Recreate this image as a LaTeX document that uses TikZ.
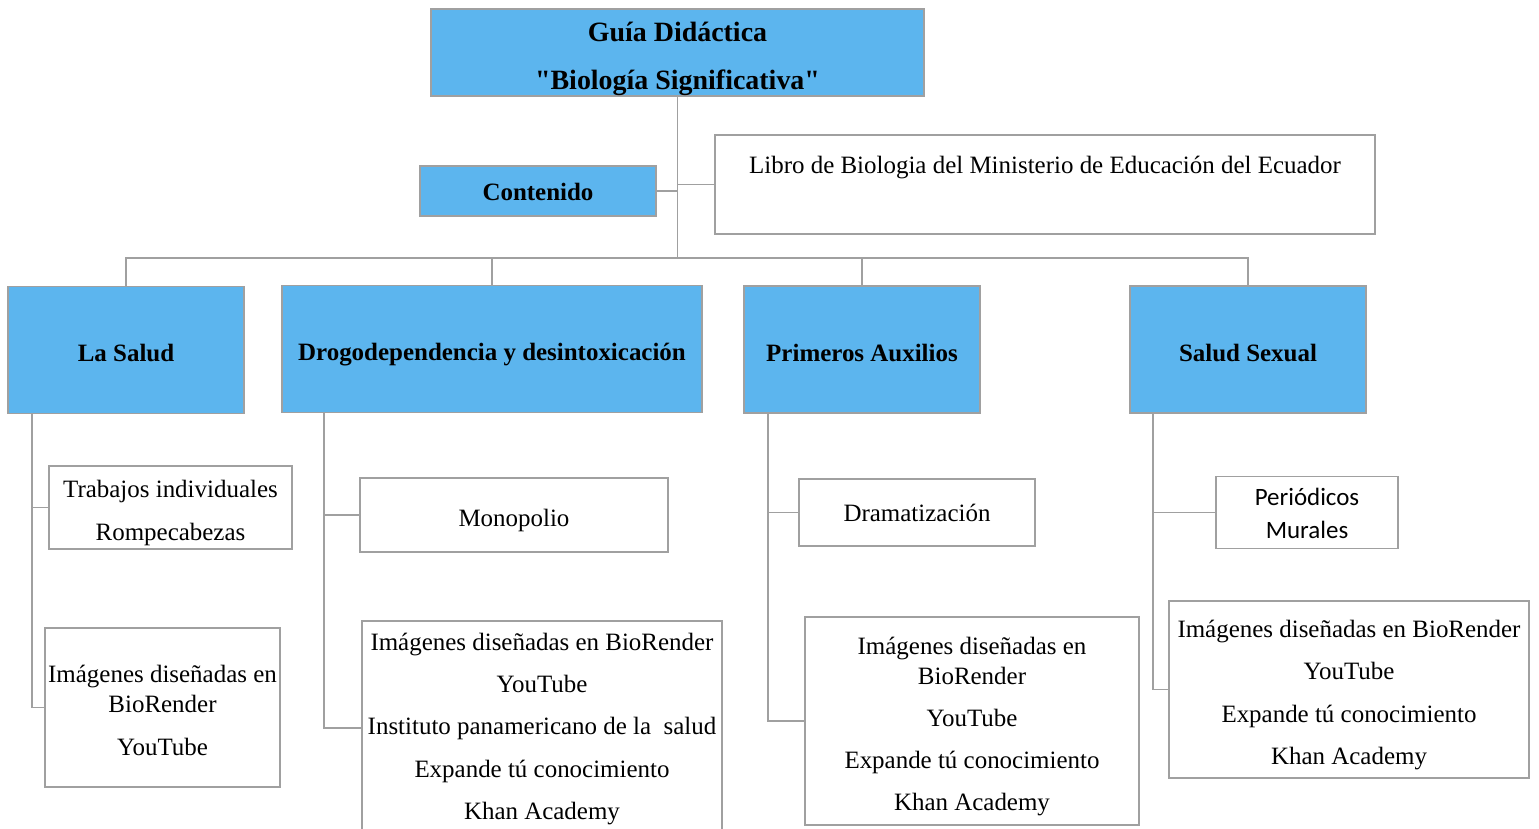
\documentclass[tikz,border=0pt]{standalone}
\usepackage{fontspec}
\setmainfont{Liberation Serif}
\newfontfamily\calibrifont{Carlito}
\definecolor{boxblue}{RGB}{92,181,238}
\definecolor{linegray}{RGB}{160,160,160}
% strut for the first line of a box
\newcommand\up[1][16.7pt]{\rule{0pt}{#1}}
\tikzset{
  hdr/.style={draw=linegray, fill=boxblue, line width=0.9pt, inner sep=0pt,
    align=center, minimum height=2.54cm, text depth=3.5pt,
    font=\fontsize{14.2}{24.05}\selectfont\bfseries},
  leaf/.style={draw=linegray, fill=white, line width=0.9pt, inner sep=0pt,
    align=center, text depth=3.5pt, font=\fontsize{14.2}{24.05}\selectfont},
  conn/.style={draw=linegray, line width=1.1pt},
}
\begin{document}
\begin{tikzpicture}
    \useasboundingbox (0,0) rectangle (30.78,-16.58);
    \clip (0,0) rectangle (30.78,-16.58);

    % top
    \node[hdr, minimum width=9.86cm, minimum height=1.74cm,
      font=\fontsize{15.9}{27.3}\selectfont\bfseries] (guia) at (13.55,-1.05)
      {\up[18.5pt]Guía Didáctica\\\textquotedbl Biología Significativa\textquotedbl};
    \node[hdr, minimum width=4.72cm, minimum height=1cm, text depth=5.5pt] (cont) at (10.76,-3.82) {\up Contenido};
    \node[leaf, minimum width=13.2cm, minimum height=1.98cm] (libro) at (20.9,-3.69) {};
    \node[font=\fontsize{14.2}{24.05}\selectfont] (librotxt) at (20.9,-3.36)
      {Libro de Biologia del Ministerio de Educación del Ecuador};
    \coordinate (bus) at (13.54,-5.16);

    % headers
    \node[hdr, minimum width=4.72cm] (salud) at (2.52,-7.0) {\up La Salud};
    \node[hdr, minimum width=8.4cm] (drogo) at (9.84,-6.98) {\up Drogodependencia y desintoxicación};
    \node[hdr, minimum width=4.72cm] (auxil) at (17.24,-6.99) {\up Primeros Auxilios};
    \node[hdr, minimum width=4.72cm] (sexual) at (24.96,-6.99) {\up Salud Sexual};

    % leaves
    \node[leaf, minimum width=4.86cm, minimum height=1.66cm] (trab) at (3.41,-10.15)
      {\up Trabajos individuales\\Rompecabezas};
    \node[leaf, minimum width=4.7cm, minimum height=3.18cm] (imgA) at (3.25,-14.15)
      {\up Imágenes diseñadas en\\[-7pt]BioRender\\YouTube};
    \node[leaf, minimum width=6.16cm, minimum height=1.48cm] (mono) at (10.28,-10.3) {\up Monopolio};
    \node[leaf, minimum width=7.2cm, minimum height=4.28cm, text depth=9pt] (imgB) at (10.84,-14.56)
      {\up Imágenes diseñadas en BioRender\\YouTube\\Instituto panamericano de la \ salud\\
       Expande tú conocimiento\\Khan Academy};
    \node[leaf, minimum width=4.72cm, minimum height=1.34cm, text depth=6.5pt] (drama) at (18.34,-10.25) {\up Dramatización};
    \node[leaf, minimum width=6.68cm, minimum height=4.16cm] (imgC) at (19.44,-14.42)
      {\up Imágenes diseñadas en\\[-7pt]BioRender\\YouTube\\Expande tú conocimiento\\Khan Academy};
    \node[leaf, minimum width=3.64cm, minimum height=1.38cm, text depth=5.5pt,
      font=\fontsize{14.2}{18.8}\selectfont\calibrifont] (peri) at (26.14,-10.25)
      {\up Periódicos\\Murales};
    \node[leaf, minimum width=7.2cm, minimum height=3.54cm] (imgD) at (26.98,-13.79)
      {\up Imágenes diseñadas en BioRender\\YouTube\\Expande tú conocimiento\\Khan Academy};

    % connectors
    \draw[conn] (guia.south) -- (guia.south |- bus);
    \draw[conn] (cont.east) -- (cont.east -| bus);
    \draw[conn] (libro.west) -- (libro.west -| bus);
    \draw[conn] (salud.north) |- (bus) -| (sexual.north);
    \draw[conn] (drogo.north) -- (drogo.north |- bus);
    \draw[conn] (auxil.north) -- (auxil.north |- bus);

    \draw[conn] ([xshift=0.5cm]salud.south west) |- (trab.west)
                ([xshift=0.5cm]salud.south west) |- (imgA.west);
    \draw[conn] ([xshift=0.86cm]drogo.south west) |- (mono.west)
                ([xshift=0.86cm]drogo.south west) |- (imgB.west);
    \draw[conn] ([xshift=0.5cm]auxil.south west) |- (drama.west)
                ([xshift=0.5cm]auxil.south west) |- (imgC.west);
    \draw[conn] ([xshift=0.48cm]sexual.south west) |- (peri.west)
                ([xshift=0.48cm]sexual.south west) |- (imgD.west);
\end{tikzpicture}
\end{document}
